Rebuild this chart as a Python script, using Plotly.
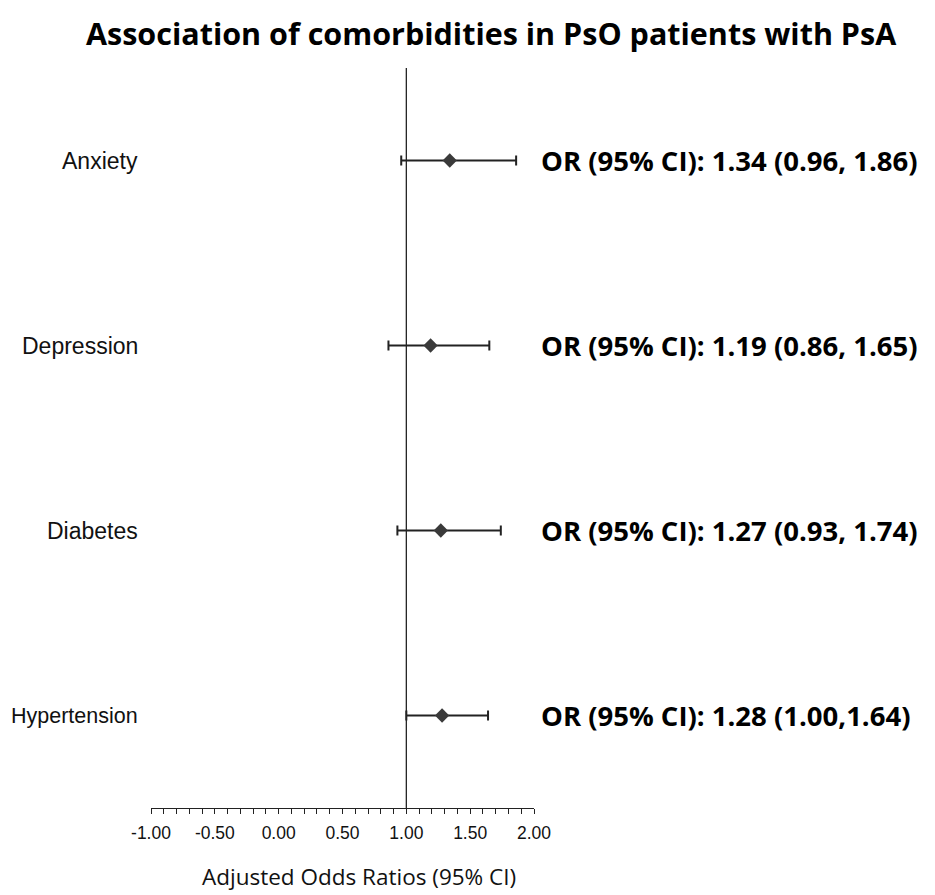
import plotly.graph_objects as go

categories = ["Anxiety", "Depression", "Diabetes", "Hypertension"]
odds_ratio = [1.34, 1.19, 1.27, 1.28]
ci_lower = [0.96, 0.86, 0.93, 1.00]
ci_upper = [1.86, 1.65, 1.74, 1.64]
or_text = [
    "OR (95% CI): 1.34 (0.96, 1.86)",
    "OR (95% CI): 1.19 (0.86, 1.65)",
    "OR (95% CI): 1.27 (0.93, 1.74)",
    "OR (95% CI): 1.28 (1.00,1.64)",
]
x_tickvals = [-1.0, -0.5, 0.0, 0.5, 1.0, 1.5, 2.0]
x_ticktext = ["-1.00", "-0.50", "0.00", "0.50", "1.00", "1.50", "2.00"]
title_text = "Association of comorbidities in PsO patients with PsA"

ypos = [len(categories) - i for i in range(len(categories))]

fig = go.Figure()
fig.add_trace(go.Scatter(
    x=odds_ratio, y=ypos, mode="markers",
    marker=dict(symbol="diamond", size=11, color="#3a3a3a"),
    error_x=dict(type="data", symmetric=False,
                 array=[u - o for u, o in zip(ci_upper, odds_ratio)],
                 arrayminus=[o - l for o, l in zip(odds_ratio, ci_lower)],
                 color="#222222", thickness=2, width=5),
    showlegend=False, hoverinfo="skip",
))

# reference line at OR = 1
fig.add_shape(type="line", x0=1, x1=1, xref="x", y0=0, y1=1, yref="paper",
              line=dict(color="#222222", width=1.3), layer="below")

annotations = []
for cat, y in zip(categories, ypos):
    fsize = 21.5 if len(cat) > 11 else 23  # longest label shrunk so it stays inside the page
    annotations.append(dict(x=-0.028, xref="paper", y=y, yref="y", text=cat,
                            showarrow=False, xanchor="right", yanchor="middle",
                            font=dict(family="Liberation Sans", size=fsize, color="#111111")))
for txt, y in zip(or_text, ypos):
    annotations.append(dict(x=1.013, xref="paper", y=y, yref="y", text="<b>" + txt + "</b>",
                            showarrow=False, xanchor="left", yanchor="middle",
                            font=dict(family="Open Sans", size=27.5, color="#000000")))
annotations.append(dict(x=0.543, xref="paper", y=-0.093, yref="paper",
                        text="Adjusted Odds Ratios (95% CI)", showarrow=False,
                        xanchor="center", yanchor="middle",
                        font=dict(family="Open Sans", size=22.5, color="#111111")))
# chart title, placed as an annotation above the plot area
annotations.append(dict(x=0.888, xref="paper", y=1 + 58 / 740, yref="paper",
                        text="<b>" + title_text + "</b>", showarrow=False,
                        xanchor="center", yanchor="top",
                        font=dict(family="Open Sans", size=30.5, color="#000000")))

fig.update_layout(
    width=935, height=895,
    margin=dict(l=143, r=409, t=60, b=95),
    paper_bgcolor="white", plot_bgcolor="white",
    xaxis=dict(range=[-1, 2], tickvals=x_tickvals, ticktext=x_ticktext,
               showgrid=False, zeroline=False, showline=True, linecolor="#222222", linewidth=1.3,
               ticks="outside", ticklen=5, tickcolor="#222222", tickwidth=1,
               ticklabelstandoff=4,
               minor=dict(dtick=0.1, ticks="outside", ticklen=5, tickcolor="#222222", tickwidth=1),
               tickfont=dict(family="Liberation Sans", size=17.5, color="#111111")),
    yaxis=dict(range=[0.5, 4.5], showgrid=False, zeroline=False, showline=False,
               showticklabels=False, ticks=""),
    annotations=annotations,
)

fig.write_html("out.html")
